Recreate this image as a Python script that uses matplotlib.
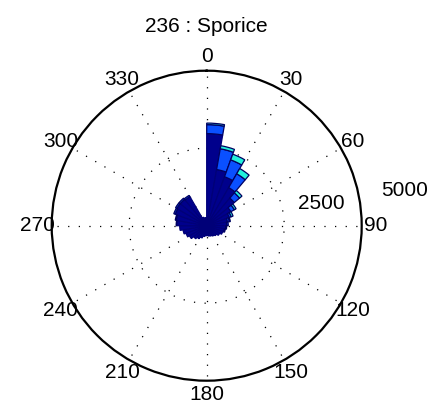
import numpy as np
import matplotlib
matplotlib.use("Agg")
import matplotlib.pyplot as plt

plt.rcParams['font.family'] = ['Liberation Sans', 'DejaVu Sans']

# Direction bins (degrees, start of each 10-degree sector)
directions = list(range(0, 360, 10))

# Counts per sector for each speed class (stacked from the centre outwards)
class_low = [2970, 1840, 1680, 1420, 1160, 900, 775, 680, 645, 615,
             580, 550, 485, 420, 385, 355, 340, 320, 320, 355,
             420, 485, 550, 645, 710, 775, 870, 970, 1000, 1080,
             1110, 1110, 1080, 290, 260, 260]
class_mid = [290, 680, 580, 515, 225, 130, 65, 65, 50, 30,
             30, 0, 0, 0, 0, 0, 0, 0, 0, 0,
             0, 0, 0, 0, 0, 0, 0, 15, 30, 50,
             50, 50, 50, 0, 0, 0]
class_high = [50, 100, 195, 195, 100, 65, 65, 30, 0, 0,
              0, 0, 0, 0, 0, 0, 0, 0, 0, 0,
              0, 0, 0, 0, 0, 0, 0, 0, 0, 0,
              0, 0, 0, 0, 0, 0]

class_colors = ['#00008C', '#0A50FF', '#22F2DC']
class_edges = ['#000078', '#000060', '#000060']

title = '236 : Sporice'
angle_ticks = list(range(0, 360, 30))
angle_labels = [str(a) for a in angle_ticks]
r_ticks = [2500, 5000]
r_max = 5000

W, H = 433, 411
fig = plt.figure(figsize=(W / 100, H / 100), dpi=100)
cx, cy, rad = 206.7, 225.7, 155.0
ax = fig.add_axes([(cx - rad) / W, (H - cy - rad) / H, 2 * rad / W, 2 * rad / H],
                  projection='polar')
ax.set_theta_zero_location('N')
ax.set_theta_direction(-1)
ax.set_ylim(0, r_max)
ax.grid(False)
ax.set_xticks([])
ax.set_yticks([])
ax.spines['polar'].set_linewidth(1.6)
ax.spines['polar'].set_color('black')

dot = (0, (1, 7.5))
# radial spokes
for a in angle_ticks:
    t = np.deg2rad(a)
    ax.plot([t, t], [0, r_max], color='black', linestyle=dot, linewidth=0.9, zorder=1)
# inner ring
tt = np.linspace(0, 2 * np.pi, 400)
for r in r_ticks[:-1]:
    ax.plot(tt, np.full_like(tt, r), color='black', linestyle=dot, linewidth=0.9, zorder=1)

theta = np.deg2rad(directions)
width = np.deg2rad(10)
bottom = np.zeros(len(directions))
for vals, col, ec in zip([class_low, class_mid, class_high], class_colors, class_edges):
    vals = np.asarray(vals, dtype=float)
    mask = vals > 0
    ax.bar(theta[mask], vals[mask], width=width, bottom=bottom[mask], align='edge',
           color=col, edgecolor=ec, linewidth=0.9, zorder=3)
    bottom = bottom + vals

# angle labels outside the circle
for a, lab in zip(angle_ticks, angle_labels):
    ax.text(np.deg2rad(a), r_max * 1.09, lab, ha='center', va='center',
            fontsize=15, clip_on=False)

# ring labels
ax.text(np.deg2rad(79), 3775, str(r_ticks[0]), ha='center', va='center',
        fontsize=15, clip_on=False)
ax.text(np.deg2rad(79.8), 6490, str(r_ticks[1]), ha='center', va='center',
        fontsize=15, clip_on=False)

fig.text(cx / W, 1 - 27 / H, title, ha='center', va='center', fontsize=15)

fig.savefig('out.png', dpi=100)
